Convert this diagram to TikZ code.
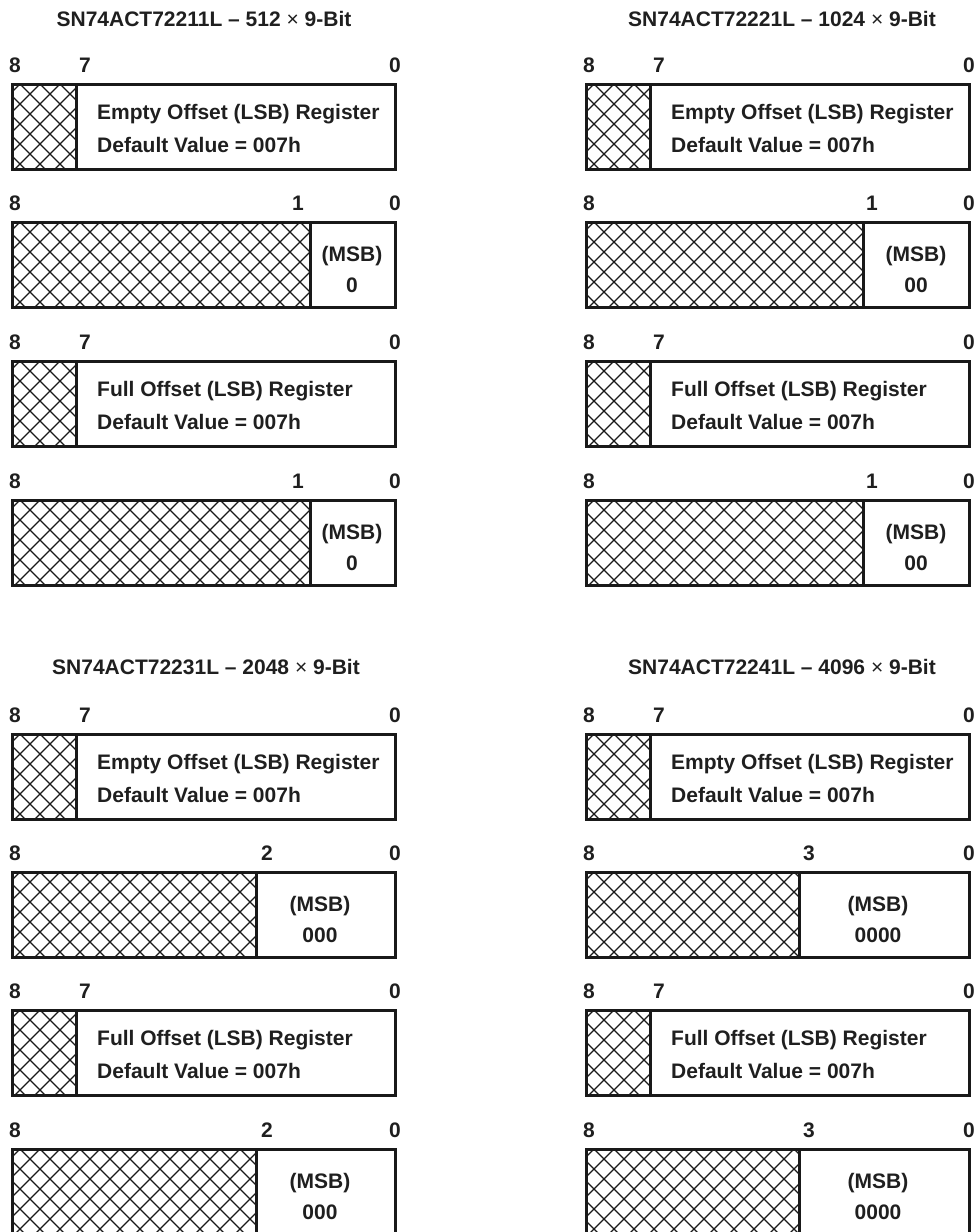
\documentclass[tikz,border=0pt]{standalone}
\usepackage{fontspec}
\setmainfont{Liberation Sans}
\tikzset{
  boxline/.style={line width=3pt, draw=black!90},
  hatchline/.style={line width=1.35pt, draw=black!90},
  txt/.style={font=\fontsize{21}{25}\selectfont\bfseries, inner sep=0pt, text=black!88},
}
% hatched area: x1 y1 x2 y2
\newcommand\HatchRect[4]{%
  \begin{scope}
    \clip (#1,#2) rectangle (#3,#4);
    \foreach \k in {-6,...,21} {
      \draw[hatchline] ({#1+8+20*\k},#2) -- ++(100,100);
      \draw[hatchline] ({#1+8+20*\k},#2) -- ++(-100,100);
    }
  \end{scope}}
% register box: name, left, top, divider, register word
\newcommand\RegBox[5]{%
  \HatchRect{#2}{#3}{#4}{#3+85}
  \node[txt, anchor=base west] (#1a) at ({#4+21},{#3+35}) {#5 Offset (LSB) Register};
  \node[txt, anchor=base west] (#1b) at ({#4+21},{#3+68}) {Default Value = 007h};
  \node[txt, anchor=base] (#1e) at ({#2+3},{#3-12}) {8};
  \node[txt, anchor=base] (#1s) at ({#4+9},{#3-12}) {7};
  \node[txt, anchor=base] (#1z) at ({#2+383},{#3-12}) {0};
  \draw[boxline] (#2,#3) rectangle ({#2+383},{#3+85});
  \draw[boxline] (#4,#3) -- (#4,{#3+85});
}
% MSB box: name, left, top, divider, bit label, bit label x, value, text centre x
\newcommand\MsbBox[8]{%
  \HatchRect{#2}{#3}{#4}{#3+85}
  \node[txt, anchor=base] (#1a) at (#8,{#3+39}) {(MSB)};
  \node[txt, anchor=base] (#1b) at (#8,{#3+70}) {#7};
  \node[txt, anchor=base] (#1e) at ({#2+3},{#3-12}) {8};
  \node[txt, anchor=base] (#1s) at (#6,{#3-12}) {#5};
  \node[txt, anchor=base] (#1z) at ({#2+383},{#3-12}) {0};
  \draw[boxline] (#2,#3) rectangle ({#2+383},{#3+85});
  \draw[boxline] (#4,#3) -- (#4,{#3+85});
}
\begin{document}
\begin{tikzpicture}[x=1pt,y=-1pt]
\useasboundingbox (0,0) rectangle (977,1232);
% titles
\node[txt, anchor=base] (tA) at (204,26) {SN74ACT72211L – 512 {\mdseries ×} 9-Bit};
\node[txt, anchor=base] (tB) at (782,26) {SN74ACT72221L – 1024 {\mdseries ×} 9-Bit};
\node[txt, anchor=base] (tC) at (206,674) {SN74ACT72231L – 2048 {\mdseries ×} 9-Bit};
\node[txt, anchor=base] (tD) at (782,674) {SN74ACT72241L – 4096 {\mdseries ×} 9-Bit};
% 512 x 9
\RegBox{aa}{12}{84}{76}{Empty}
\MsbBox{ab}{12}{222}{310}{1}{298}{0}{352}
\RegBox{ac}{12}{361}{76}{Full}
\MsbBox{ad}{12}{500}{310}{1}{298}{0}{352}
% 1024 x 9
\RegBox{ba}{586}{84}{650}{Empty}
\MsbBox{bb}{586}{222}{863}{1}{872}{00}{916}
\RegBox{bc}{586}{361}{650}{Full}
\MsbBox{bd}{586}{500}{863}{1}{872}{00}{916}
% 2048 x 9
\RegBox{ca}{12}{734}{76}{Empty}
\MsbBox{cb}{12}{872}{256}{2}{267}{000}{320}
\RegBox{cc}{12}{1010}{76}{Full}
\MsbBox{cd}{12}{1149}{256}{2}{267}{000}{320}
% 4096 x 9
\RegBox{da}{586}{734}{650}{Empty}
\MsbBox{db}{586}{872}{799}{3}{809}{0000}{878}
\RegBox{dc}{586}{1010}{650}{Full}
\MsbBox{dd}{586}{1149}{799}{3}{809}{0000}{878}
\end{tikzpicture}
\end{document}
